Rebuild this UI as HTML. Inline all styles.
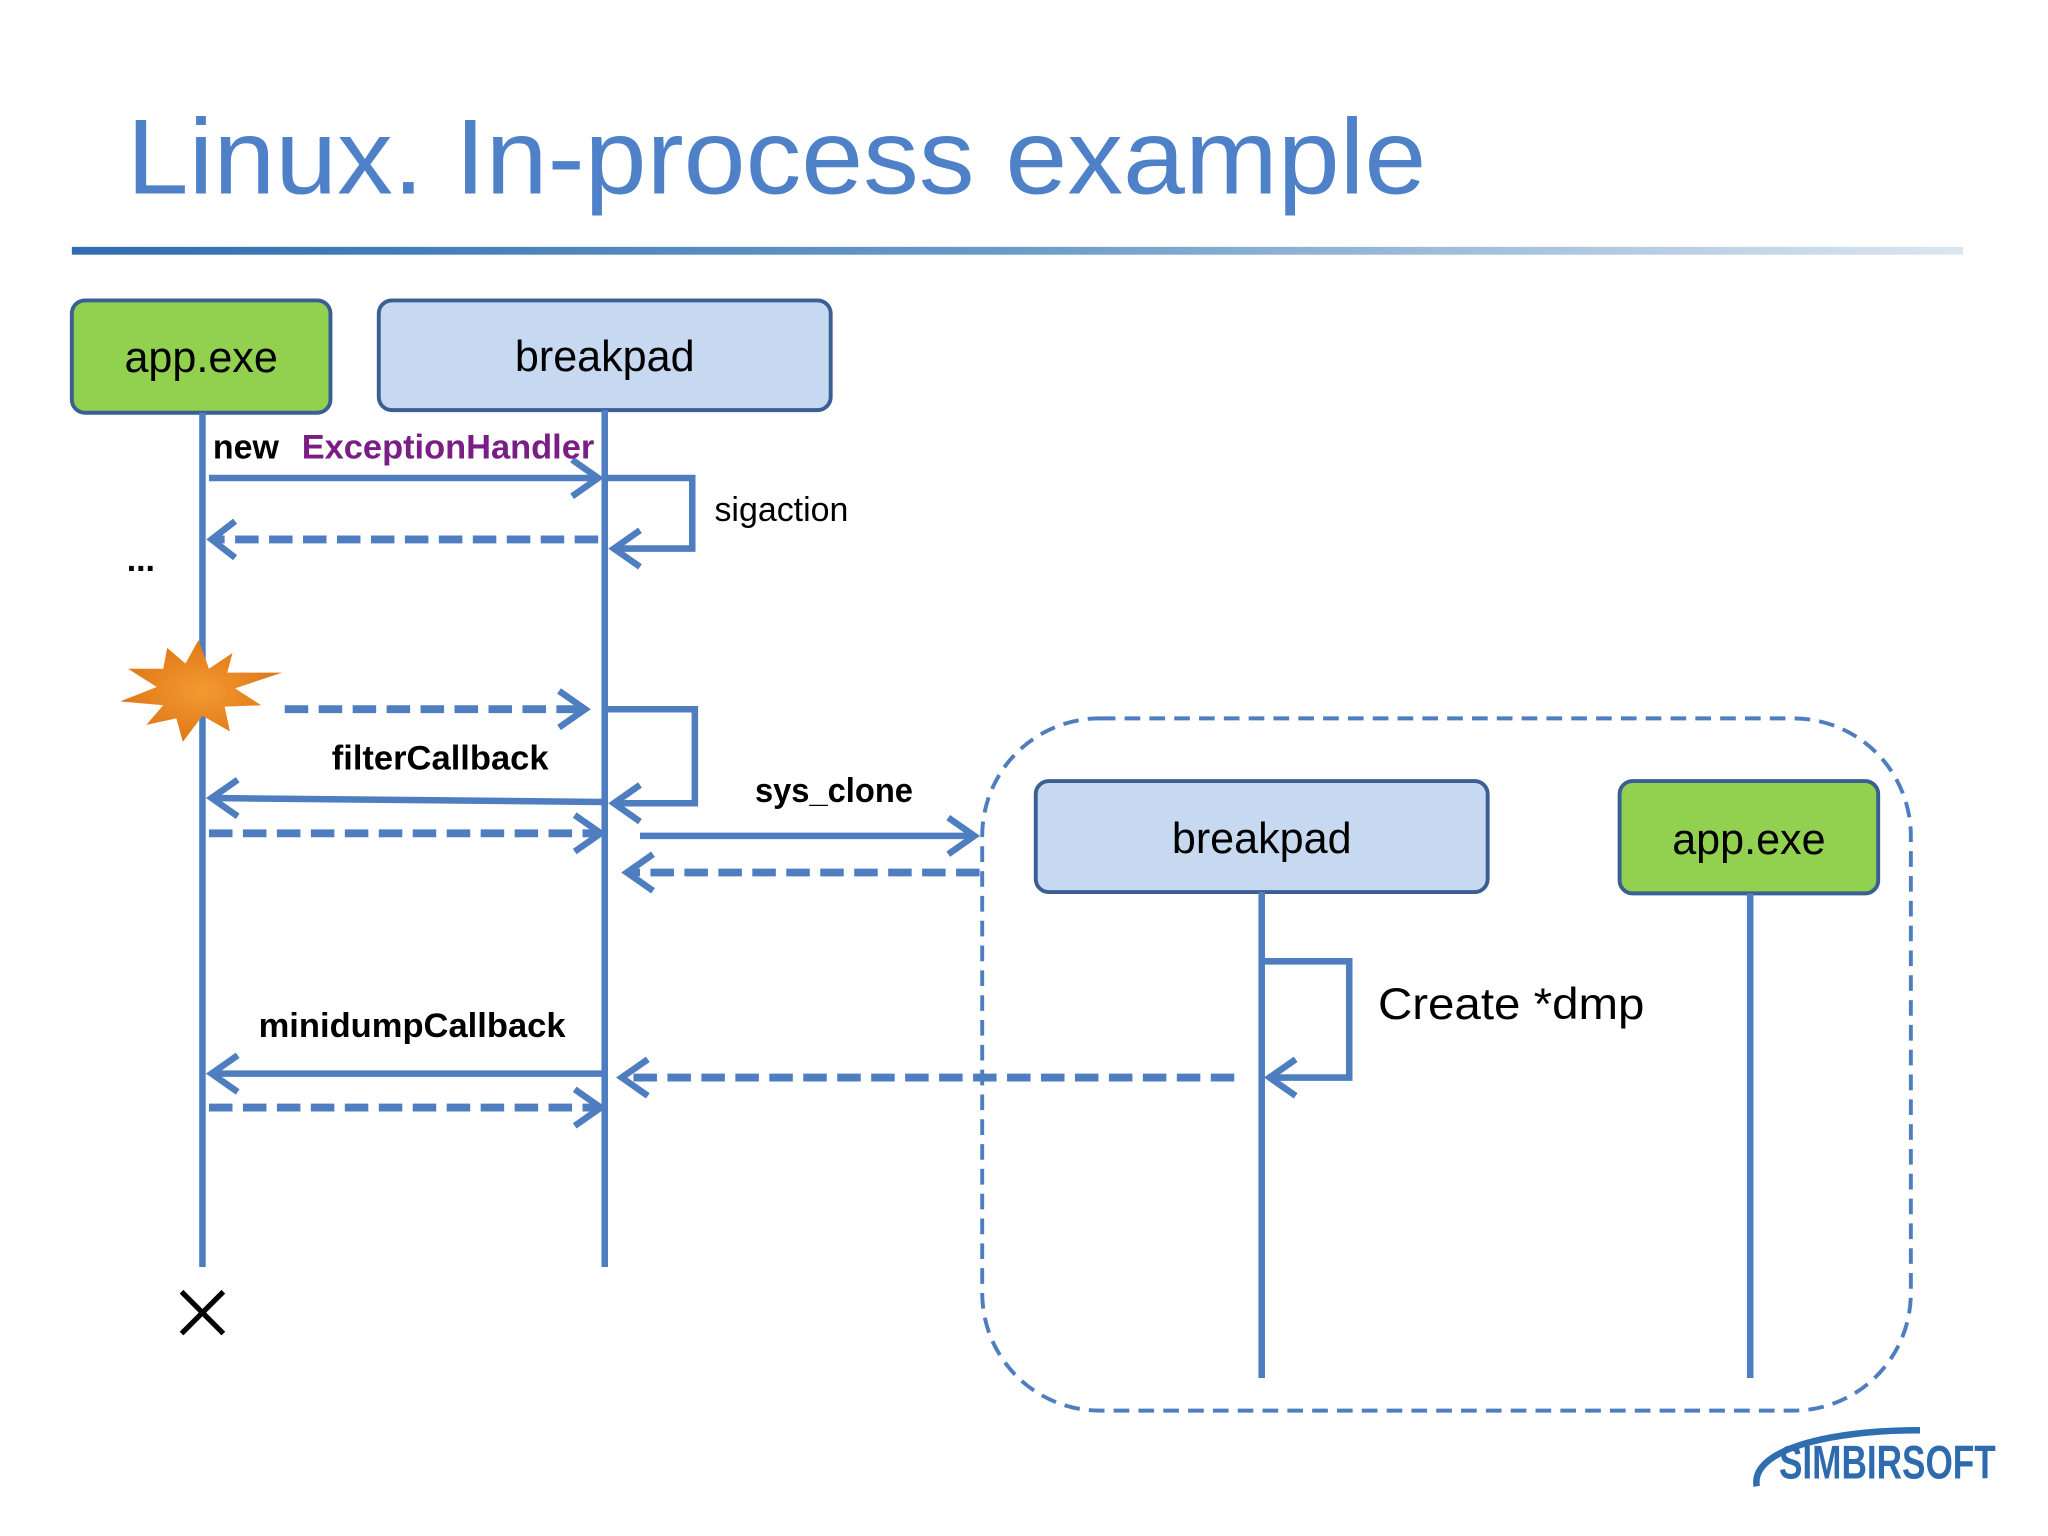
<!DOCTYPE html>
<html><head><meta charset="utf-8"><style>
html,body{margin:0;padding:0;background:#fff;}
svg{display:block;}
text{font-family:"Liberation Sans",sans-serif;}
</style></head><body>
<svg width="2048" height="1536" viewBox="0 0 1568 1176" xmlns="http://www.w3.org/2000/svg">
<defs>
<linearGradient id="g" x1="0" x2="1" y1="0" y2="0">
<stop offset="0" stop-color="#2E6DB0"/><stop offset="0.5" stop-color="#6B9BC8"/><stop offset="1" stop-color="#DCE6F0"/>
</linearGradient>
<radialGradient id="sg"><stop offset="0" stop-color="#F39A30"/><stop offset="1" stop-color="#E07818"/></radialGradient>
</defs>
<rect width="1568" height="1176" fill="#fff"/>
<text x="97" y="148" font-size="82" fill="#4F81C8" textLength="995" lengthAdjust="spacingAndGlyphs">Linux. In-process example</text>
<rect x="55" y="189" width="1448" height="6" fill="url(#g)"/>

<g stroke="#3B5F93" stroke-width="3">
<rect x="55" y="230" width="198" height="86" rx="10" fill="#92D050"/>
<rect x="290" y="230" width="346" height="84" rx="10" fill="#C6D9F1"/>
<rect x="793" y="598" width="346" height="85" rx="10" fill="#C6D9F1"/>
<rect x="1240" y="598" width="198" height="86" rx="10" fill="#92D050"/>
</g>
<g font-size="33" fill="#000" text-anchor="middle">
<text x="154" y="285">app.exe</text>
<text x="463" y="284">breakpad</text>
<text x="966" y="653">breakpad</text>
<text x="1339" y="654">app.exe</text>
</g>

<rect x="752" y="550" width="711" height="530" rx="90" fill="none" stroke="#4F7EC0" stroke-width="3" stroke-dasharray="12 7"/>

<g stroke="#4F7EC0" stroke-width="5" fill="none" stroke-linejoin="miter">
<line x1="155" y1="316" x2="155" y2="970"/>
<line x1="463" y1="314" x2="463" y2="970"/>
<line x1="966" y1="683" x2="966" y2="1055"/>
<line x1="1340" y1="684" x2="1340" y2="1055"/>
<!-- solid arrows -->
<line x1="160" y1="366" x2="458" y2="366"/><polyline points="438,352 458,366 438,380"/>
<polyline points="463,366 530,366 530,420 470,420"/><polyline points="490,406 470,420 490,434"/>
<polyline points="463,543 532,543 532,615 470,615"/><polyline points="490,601 470,615 490,629"/>
<line x1="462" y1="614" x2="162" y2="611"/><polyline points="182,597 162,611 182,625"/>
<line x1="490" y1="640" x2="746" y2="640"/><polyline points="726,626 746,640 726,654"/>
<polyline points="966,736 1033,736 1033,825 972,825"/><polyline points="992,811 972,825 992,839"/>
<line x1="462" y1="822" x2="162" y2="822"/><polyline points="182,808 162,822 182,836"/>
<!-- dashed heads -->
<polyline points="180,399 162,413 180,427"/>
<polyline points="428,529 448,543 428,557"/>
<polyline points="440,624 460,638 440,652"/>
<polyline points="500,654 480,668 500,682"/>
<polyline points="496,811 476,825 496,839"/>
<polyline points="440,834 460,848 440,862"/>
</g>
<g stroke="#4F7EC0" stroke-width="6" fill="none" stroke-dasharray="18 8">
<line x1="458" y1="413" x2="164" y2="413"/>
<line x1="218" y1="543" x2="446" y2="543"/>
<line x1="160" y1="638" x2="458" y2="638"/>
<line x1="750" y1="668" x2="482" y2="668"/>
<line x1="945" y1="825" x2="478" y2="825"/>
<line x1="160" y1="848" x2="458" y2="848"/>
</g>

<polygon fill="url(#sg)" points="152,490 160,512 178,500 174,515 216,515 180,527 200,540 172,541 176,560 155,548 140,568 135,550 112,555 125,540 92,537 120,526 98,512 125,512 128,496 142,508" transform="translate(0,0)"/>

<text x="163" y="351" font-size="26" font-weight="bold" fill="#000">new</text>
<text x="231" y="351" font-size="26" font-weight="bold" fill="#7A1E86" textLength="224" lengthAdjust="spacingAndGlyphs">ExceptionHandler</text>
<text x="547" y="399" font-size="26" fill="#000">sigaction</text>
<text x="97" y="437" font-size="26" font-weight="bold" fill="#000">...</text>
<text x="254" y="589" font-size="26" font-weight="bold" fill="#000" textLength="166" lengthAdjust="spacingAndGlyphs">filterCallback</text>
<text x="578" y="614" font-size="26" font-weight="bold" fill="#000" textLength="121" lengthAdjust="spacingAndGlyphs">sys_clone</text>
<text x="198" y="794" font-size="26" font-weight="bold" fill="#000" textLength="235" lengthAdjust="spacingAndGlyphs">minidumpCallback</text>
<text x="1055" y="780" font-size="34" fill="#000" textLength="204" lengthAdjust="spacingAndGlyphs">Create *dmp</text>
<g stroke="#000" stroke-width="4"><line x1="139" y1="989" x2="171" y2="1021"/><line x1="171" y1="989" x2="139" y2="1021"/></g>

<path d="M1345,1138 C1340,1110 1400,1095 1470,1095" stroke="#2F6FB0" stroke-width="5" fill="none"/>
<text x="1362" y="1132" font-size="36" font-weight="bold" fill="#2E6BAE" textLength="166" lengthAdjust="spacingAndGlyphs">SIMBIRSOFT</text>
</svg>
</body></html>
